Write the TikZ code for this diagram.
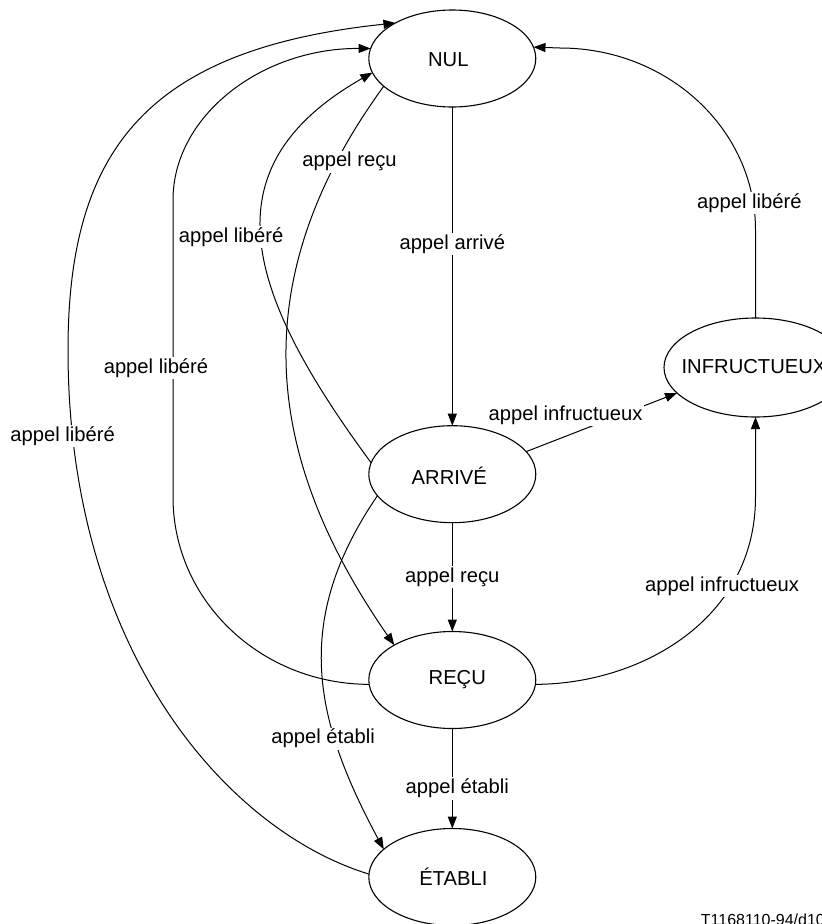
\documentclass[tikz,border=0pt]{standalone}
\usepackage{fontspec}
\setmainfont{Liberation Sans}
\usetikzlibrary{arrows.meta,shapes.geometric}
% text inside a zero-width box, nudged by (#1,#2)
\newcommand\shiftedtext[3]{\makebox[0pt]{\kern#1\relax\raisebox{#2}{#3}\kern-#1\relax}}
\begin{document}
\begin{tikzpicture}[x=1pt,y=-1pt,
  every node/.style={font=\fontsize{20.2pt}{24pt}\selectfont},
  etat/.style={draw, line width=1.1pt, ellipse, inner sep=0pt, outer sep=0pt,
    minimum width=167pt, minimum height=97pt, text height=15pt, text depth=0pt},
  trans/.style={draw, line width=1pt, -{Triangle[length=12pt,width=9pt]}},
  lbl/.style={fill=white, inner sep=1.5pt},
]
\fill[white] (0,0) rectangle (822,924);
\useasboundingbox (0,0) rectangle (822,924);

% states
\node[etat] (nul)    at (452.3,58.5)  {\shiftedtext{-4pt}{0pt}{NUL}};
\node[etat] (arrive) at (452.3,474.2) {\shiftedtext{-3pt}{-3pt}{ARRIVÉ}};
\node[etat] (recu)   at (452.3,680)   {\shiftedtext{5pt}{3pt}{REÇU}};
\node[etat] (etabli) at (452.3,877)   {\shiftedtext{1pt}{-1pt}{ÉTABLI}};
\node[etat, minimum width=183pt, minimum height=99pt] (inf) at (755.5,367.5)
  {\shiftedtext{-1.5pt}{2pt}{INFRUCTUEUX}};

% main chain
\draw[trans] (nul.south) -- node[lbl, pos=0.43] {appel arrivé} (arrive.north);
\draw[trans] (arrive.south) -- node[lbl, pos=0.5] {appel reçu} (recu.north);
\draw[trans] (recu.south) -- node[lbl, pos=0.6, xshift=5pt] {appel établi} (etabli.north);

% towards INFRUCTUEUX
\draw[trans] (arrive.17) -- node[lbl, at start, anchor=base west, xshift=-39.5pt, yshift=31.5pt] {appel infructueux} (inf.198);
\draw[trans] (recu.357) .. controls (640,684) and (755.5,620) .. (755.5,497)
  node[lbl, pos=0.72, xshift=-9pt] {appel infructueux} -- (inf.south);

% back to NUL
\draw[trans] (inf.north) -- (755.5,230) .. controls (755.5,129.5) and (668,48) .. (560,48)
  node[lbl, pos=0.09, xshift=-4pt] {appel libéré} -- (nul.8);
\draw[trans] (recu.183) .. controls (260.3,684) and (173,600.3) .. (173,497)
  -- node[lbl, pos=0.434, xshift=-17pt] {appel libéré} (173,200)
  .. controls (173,116) and (261.2,48) .. (nul.173);
\draw[trans] (arrive.172) .. controls (246,293) and (205,168) .. (nul.190)
  node[lbl, pos=0.5, xshift=-31pt, yshift=3pt] {appel libéré};
\draw[trans] (etabli.178) .. controls (226.5,830.5) and (68,650) .. (68,350)
  node[lbl, pos=0.9, xshift=-10pt] {appel libéré}
  .. controls (68,150) and (147,49) .. (nul.148);

% skipping transitions
\draw[trans] (nul.202) .. controls (235,290.5) and (272,468.7) .. (recu.149)
  node[lbl, pos=0.125, xshift=13pt] {appel reçu};
\draw[trans] (arrive.196) .. controls (292.5,620.5) and (313,718) .. (etabli.158)
  node[lbl, pos=0.7, xshift=-12pt] {appel établi};

% figure reference
\node[font=\fontsize{16pt}{19pt}\selectfont, anchor=base west, inner sep=0pt] (code)
  at (700.7,925) {T1168110-94/d10};
\end{tikzpicture}
\end{document}
